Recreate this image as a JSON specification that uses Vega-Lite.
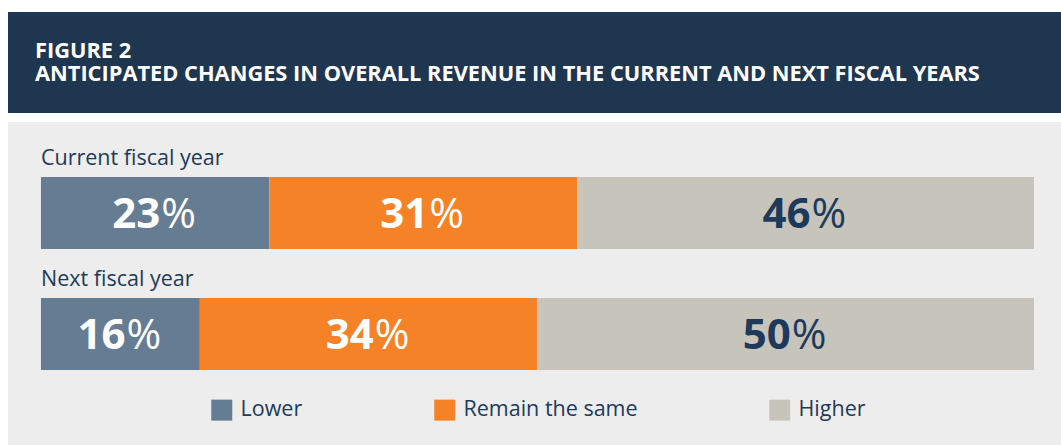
{
  "$schema": "https://vega.github.io/schema/vega-lite/v6.json",
  "background": "white",
  "padding": {"left": 8, "top": 12, "right": 0, "bottom": 0},
  "spacing": 9,
  "config": {
    "view": {"stroke": null},
    "font": "Open Sans"
  },
  "vconcat": [
    {
      "width": 1053,
      "height": 101,
      "view": {"fill": "#1f3651", "stroke": null},
      "data": {"values": [
        {"line": "FIGURE 2"},
        {"line": "ANTICIPATED CHANGES IN OVERALL REVENUE IN THE CURRENT AND NEXT FISCAL YEARS"}
      ]},
      "mark": {"type": "text", "align": "left", "baseline": "alphabetic", "font": "Open Sans", "fontWeight": "bold", "fontSize": 21.8, "color": "white"},
      "encoding": {
        "x": {"value": 27},
        "y": {"field": "line", "type": "nominal", "sort": null, "axis": null,
              "scale": {"type": "point", "range": [46, 69], "padding": 0}},
        "text": {"field": "line"}
      }
    },
    {
      "width": 1053,
      "height": 323,
      "view": {"fill": "#ededed", "stroke": null},
      "data": {"values": [
        {"year": "Current fiscal year", "category": "Lower", "pct": 23},
        {"year": "Current fiscal year", "category": "Remain the same", "pct": 31},
        {"year": "Current fiscal year", "category": "Higher", "pct": 46},
        {"year": "Next fiscal year", "category": "Lower", "pct": 16},
        {"year": "Next fiscal year", "category": "Remain the same", "pct": 34},
        {"year": "Next fiscal year", "category": "Higher", "pct": 50}
      ]},
      "transform": [
        {"calculate": "indexof(['Lower','Remain the same','Higher'], datum.category)", "as": "k"},
        {"stack": "pct", "groupby": ["year"], "sort": [{"field": "k", "order": "ascending"}], "as": ["x0", "x1"]},
        {"calculate": "(datum.x0 + datum.x1) / 2", "as": "mid"}
      ],
      "layer": [
        {
          "mark": {"type": "bar"},
          "encoding": {
            "x": {"field": "x0", "type": "quantitative", "axis": null,
                  "scale": {"domain": [-3.32, 102.72], "nice": false, "zero": false}},
            "x2": {"field": "x1"},
            "y": {"field": "year", "type": "nominal", "sort": ["Current fiscal year", "Next fiscal year"], "axis": null,
                  "scale": {"paddingInner": 0.405, "paddingOuter": 0.537, "align": 0.423}},
            "color": {"field": "category", "type": "nominal",
                      "sort": ["Lower", "Remain the same", "Higher"],
                      "scale": {"domain": ["Lower", "Remain the same", "Higher"], "range": ["#667c93", "#f58226", "#c7c4bc"]},
                      "legend": {"title": null, "orient": "none", "legendX": 203, "legendY": 387, "direction": "horizontal",
                                 "symbolType": "square", "symbolSize": 441, "symbolStrokeWidth": 0, "symbolOpacity": 1,
                                 "labelFont": "Open Sans", "labelFontSize": 21.5, "labelColor": "#1e3a5a",
                                 "labelOffset": 8, "columnPadding": 131, "padding": 0, "labelLimit": 400}}
          }
        },
        {
          "mark": {"type": "text", "align": "right", "baseline": "middle", "dx": 5, "dy": 2, "font": "Open Sans", "fontWeight": "bold", "fontSize": 42},
          "encoding": {
            "x": {"field": "mid", "type": "quantitative"},
            "y": {"field": "year", "type": "nominal", "sort": ["Current fiscal year", "Next fiscal year"]},
            "text": {"field": "pct", "type": "quantitative"},
            "color": {"condition": {"test": "datum.category === 'Higher'", "value": "#1e3a5a"}, "value": "white"}
          }
        },
        {
          "mark": {"type": "text", "align": "left", "baseline": "middle", "dx": 6, "dy": 2, "font": "Open Sans", "fontWeight": "normal", "fontSize": 42},
          "encoding": {
            "x": {"field": "mid", "type": "quantitative"},
            "y": {"field": "year", "type": "nominal", "sort": ["Current fiscal year", "Next fiscal year"]},
            "text": {"value": "%"},
            "color": {"condition": {"test": "datum.category === 'Higher'", "value": "#1e3a5a"}, "value": "white"}
          }
        },
        {
          "transform": [{"filter": "datum.category === 'Lower'"}],
          "mark": {"type": "text", "align": "left", "baseline": "alphabetic", "dy": -12, "font": "Open Sans", "fontSize": 21.5, "color": "#1e3a5a"},
          "encoding": {
            "x": {"field": "x0", "type": "quantitative"},
            "y": {"field": "year", "type": "nominal", "sort": ["Current fiscal year", "Next fiscal year"], "bandPosition": 0},
            "text": {"field": "year"}
          }
        }
      ]
    }
  ]
}
